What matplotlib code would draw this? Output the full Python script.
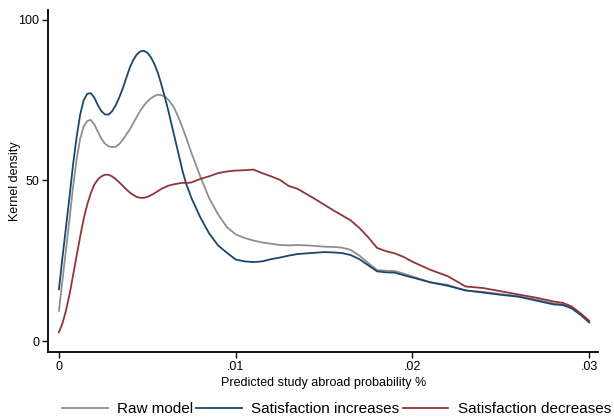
import matplotlib.pyplot as plt
import numpy as np

plt.rcParams["font.family"] = ["Liberation Sans", "DejaVu Sans"]

# predicted probability grid (x) and kernel density for each scenario
prob = [0, .0002, .0004, .0006, .0008, .001, .0012, .0014, .0016, .0018,
        .002, .0022, .0024, .0026, .0028, .003, .0032, .0034, .0036, .0038,
        .004, .0042, .0044, .0046, .0048, .005, .0052, .0054, .0056, .0058,
        .006, .0062, .0065, .0068, .007, .0072, .0075, .008, .0085,
        .009, .0095, .010, .0105, .011, .0115, .012, .0125, .013, .0135,
        .014, .0145, .015, .0155, .016, .0165, .017, .0175, .018, .0185,
        .019, .0195, .020, .021, .022, .023, .024, .025, .026, .027,
        .028, .0285, .029, .0295, .030]

raw_model = [9.4, 19, 28.5, 38, 48, 56.5, 63, 66.8, 68.5, 68.9,
             67.5, 65.2, 63, 61.5, 60.7, 60.4, 60.5, 61.3, 62.6, 64.2,
             65.8, 67.8, 69.8, 71.7, 73.3, 74.6, 75.6, 76.3, 76.7, 76.6,
             76.1, 75.1, 72.8, 69.2, 66.3, 63.3, 58.5, 51.2, 44.5,
             39.5, 35.5, 33.2, 32.1, 31.3, 30.7, 30.3, 29.9, 29.8, 29.9,
             29.8, 29.6, 29.4, 29.3, 29.1, 28.4, 26.6, 24.3, 22.1, 21.9,
             21.8, 21.0, 20.1, 18.3, 17.5, 15.7, 15.3, 14.6, 14.0, 12.9,
             11.7, 11.4, 10.5, 8.5, 6.0]

sat_increases = [16.1, 26, 35.5, 45, 55, 63.5, 70.5, 75, 77, 77.2,
                 75.8, 73.5, 71.6, 70.6, 70.5, 71.5, 73.3, 75.7, 78.5, 81.8,
                 85.0, 87.5, 89.2, 90.2, 90.4, 89.8, 88.4, 86.3, 83.5, 79.8,
                 75.8, 71.5, 64.5, 57.5, 52.8, 49, 44.5, 38.5, 33.5,
                 29.8, 27.5, 25.4, 24.8, 24.6, 24.8, 25.5, 26.0, 26.6, 27.1,
                 27.3, 27.5, 27.7, 27.6, 27.4, 26.8, 25.5, 23.6, 21.7, 21.4,
                 21.3, 20.5, 19.8, 18.3, 17.2, 15.8, 15.1, 14.4, 13.8, 12.6,
                 11.4, 11.2, 10.2, 8.2, 5.8]

sat_decreases = [2.7, 5.5, 9.5, 14.5, 20.5, 26.5, 32.5, 38, 42.5, 46,
                 48.7, 50.3, 51.3, 51.8, 51.8, 51.3, 50.5, 49.5, 48.4, 47.3,
                 46.3, 45.5, 44.9, 44.6, 44.6, 44.9, 45.4, 46.0, 46.7, 47.4,
                 47.9, 48.4, 48.8, 49.1, 49.3, 49.2, 49.4, 50.5, 51.3,
                 52.3, 52.8, 53.1, 53.2, 53.4, 52.3, 51.3, 50.2, 48.3, 47.4,
                 45.8, 44.2, 42.5, 40.8, 39.2, 37.6, 35.2, 32.3, 29.0, 28.0,
                 27.3, 26.2, 24.7, 22.2, 20.2, 17.0, 16.5, 15.5, 14.5, 13.5,
                 12.3, 11.9, 10.8, 8.7, 6.3]

labels = ["Raw model", "Satisfaction increases", "Satisfaction decreases"]
colors = ["#8f8f8f", "#1a476f", "#90353b"]

fig = plt.figure(figsize=(6.14, 4.17), dpi=100)
ax = fig.add_axes([0.0787, 0.156, 0.8953, 0.820])

for series, lab, col in zip([raw_model, sat_increases, sat_decreases], labels, colors):
    ax.plot(prob, series, color=col, lw=1.3, label=lab, solid_joinstyle="round")

ax.set_xlim(-0.0006, 0.0305)
ax.set_ylim(-3.4, 103.1)
ax.set_xticks([0, .01, .02, .03])
ax.set_xticklabels(["0", ".01", ".02", ".03"])
ax.set_yticks([0, 50, 100])
ax.tick_params(axis="both", direction="out", length=4.5, width=1.0,
               labelsize=9, pad=2, colors="black")

for side in ["top", "right"]:
    ax.spines[side].set_visible(False)
for side in ["left", "bottom"]:
    ax.spines[side].set_linewidth(1.3)

ax.set_xlabel("Predicted study abroad probability %", fontsize=9, labelpad=3)
ax.set_ylabel("Kernel density", fontsize=9)
ax.yaxis.set_label_coords(-0.05, 0.5)

fig.legend(loc="lower center", bbox_to_anchor=(0.548, -0.012), ncol=3,
           frameon=False, fontsize=11, handlelength=3.0, handletextpad=0.6,
           columnspacing=0.2, borderaxespad=0)

fig.savefig("out.png", dpi=100)
